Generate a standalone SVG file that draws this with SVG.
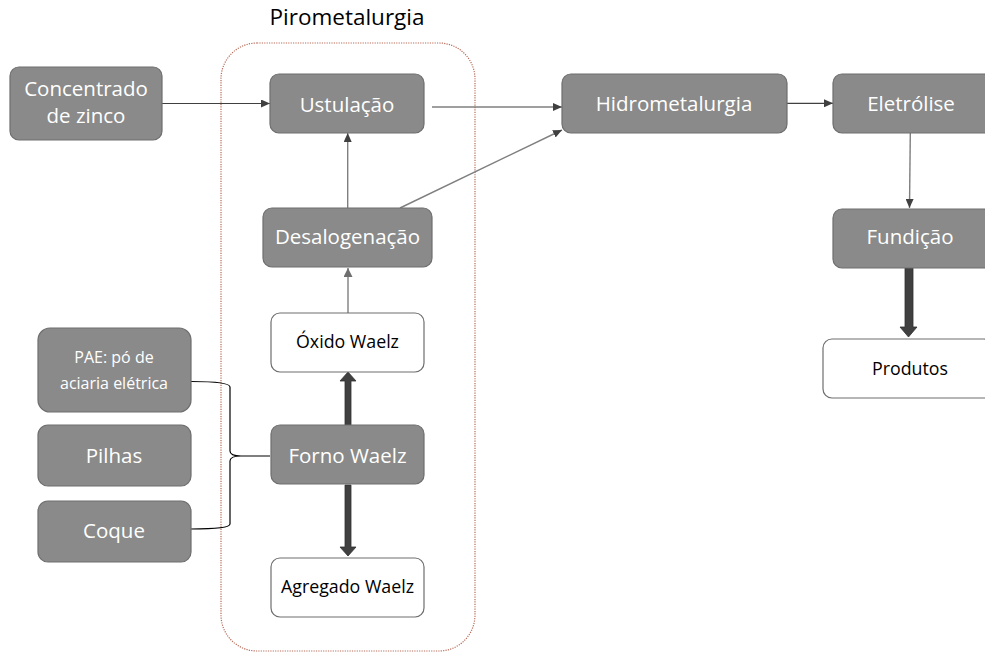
<svg xmlns="http://www.w3.org/2000/svg" width="985" height="652" viewBox="0 0 985 652">
<defs>
<style>
.g rect{fill:#8a8a8a;stroke:#6e6e6e;stroke-width:1.2}
.w rect{fill:#ffffff;stroke:#6e6e6e;stroke-width:1.2}
.g text{fill:#ffffff;font-family:"Open Sans",sans-serif;font-size:20.5px;text-anchor:middle}
.w text{fill:#000000;font-family:"Open Sans",sans-serif;font-size:17.8px;text-anchor:middle}
.g text.s{font-size:16px}
.ln{fill:none;stroke:#404040;stroke-width:1.2}
.lg{fill:none;stroke:#7f7f7f;stroke-width:1.4}
.thick{fill:#404040;stroke:#303030;stroke-width:0.8}
</style>
<marker id="ad" viewBox="0 0 9 8" refX="9" refY="4" markerWidth="9" markerHeight="8" markerUnits="userSpaceOnUse" orient="auto"><path d="M0,0 L9,4 L0,8 z" fill="#404040"/></marker>
<marker id="ag" viewBox="0 0 9 9" refX="9" refY="4.5" markerWidth="9" markerHeight="9" markerUnits="userSpaceOnUse" orient="auto"><path d="M0,0 L9,4.5 L0,9 z" fill="#6f6f6f"/></marker>
</defs>
<rect width="985" height="652" fill="#ffffff"/>
<g id="pirometalurgia">
<rect x="221" y="43" width="254" height="608" rx="36" fill="none" stroke="#b86a58" stroke-width="1.2" stroke-dasharray="1.2,1.2"/>
<text x="347" y="25" font-family="Open Sans, sans-serif" font-size="22.5px" text-anchor="middle" fill="#000">Pirometalurgia</text>
</g>
<g id="connectors">
<path class="ln" d="M162,103.5 L270,103.5" marker-end="url(#ad)"/>
<path class="lg" d="M432,107 L562,107" marker-end="url(#ad)"/>
<path class="lg" d="M400,208 L562,130" marker-end="url(#ad)"/>
<path class="lg" d="M347.7,208 L347.7,133" marker-end="url(#ad)"/>
<path class="lg" d="M348,313 L348,268" marker-end="url(#ag)"/>
<path class="ln" d="M787,103.3 L833,103.3" marker-end="url(#ad)"/>
<path class="lg" d="M910.3,133 L909.5,208" marker-end="url(#ad)"/>
<path class="thick" d="M345,425 L345,381 L340,381 L348,372 L356,381 L351,381 L351,425 z"/>
<path class="thick" d="M345,485 L345,547 L340,547 L348,556 L356,547 L351,547 L351,485 z"/>
<path class="thick" d="M905,268 L905,327 L900,327 L908.5,337 L917,327 L913,327 L913,268 z"/>
<path fill="none" stroke="#000" stroke-width="1.2" d="M191,381.5 Q230,381.5 230,387 L230,451 Q230,456 241,456 Q230,456 230,461 L230,524 Q230,529 191,529 M241,456 L270,456"/>
</g>
<g id="concentrado" class="g"><rect x="10" y="67" width="152" height="73" rx="9"/><text x="86" y="96">Concentrado</text><text x="86" y="123">de zinco</text></g>
<g id="ustulacao" class="g"><rect x="270" y="74" width="154" height="59" rx="9"/><text x="347" y="112">Ustulação</text></g>
<g id="desalogenacao" class="g"><rect x="263" y="208" width="169" height="59" rx="9"/><text x="347.5" y="244">Desalogenação</text></g>
<g id="hidrometalurgia" class="g"><rect x="562" y="74" width="225" height="59" rx="9"/><text x="674" y="111">Hidrometalurgia</text></g>
<g id="eletrolise" class="g"><rect x="833" y="74" width="160" height="59" rx="9"/><text x="911" y="111">Eletrólise</text></g>
<g id="fundicao" class="g"><rect x="833" y="209" width="160" height="59" rx="9"/><text x="910" y="244">Fundição</text></g>
<g id="produtos" class="w"><rect x="823" y="339" width="170" height="59" rx="9"/><text x="910" y="375">Produtos</text></g>
<g id="oxido" class="w"><rect x="271" y="313" width="153" height="59" rx="9"/><text x="347.5" y="348">Óxido Waelz</text></g>
<g id="forno" class="g"><rect x="271" y="425" width="153" height="59" rx="9"/><text x="347.5" y="463">Forno Waelz</text></g>
<g id="agregado" class="w"><rect x="271" y="558" width="153" height="59" rx="9"/><text x="347.5" y="593">Agregado Waelz</text></g>
<g id="pae" class="g"><rect x="38" y="328" width="153" height="84" rx="12"/><text class="s" x="114" y="363">PAE: pó de</text><text class="s" x="114" y="389">aciaria elétrica</text></g>
<g id="pilhas" class="g"><rect x="38" y="425" width="153" height="61" rx="10"/><text x="114" y="463">Pilhas</text></g>
<g id="coque" class="g"><rect x="38" y="501" width="153" height="61" rx="10"/><text x="114" y="538">Coque</text></g>
</svg>
